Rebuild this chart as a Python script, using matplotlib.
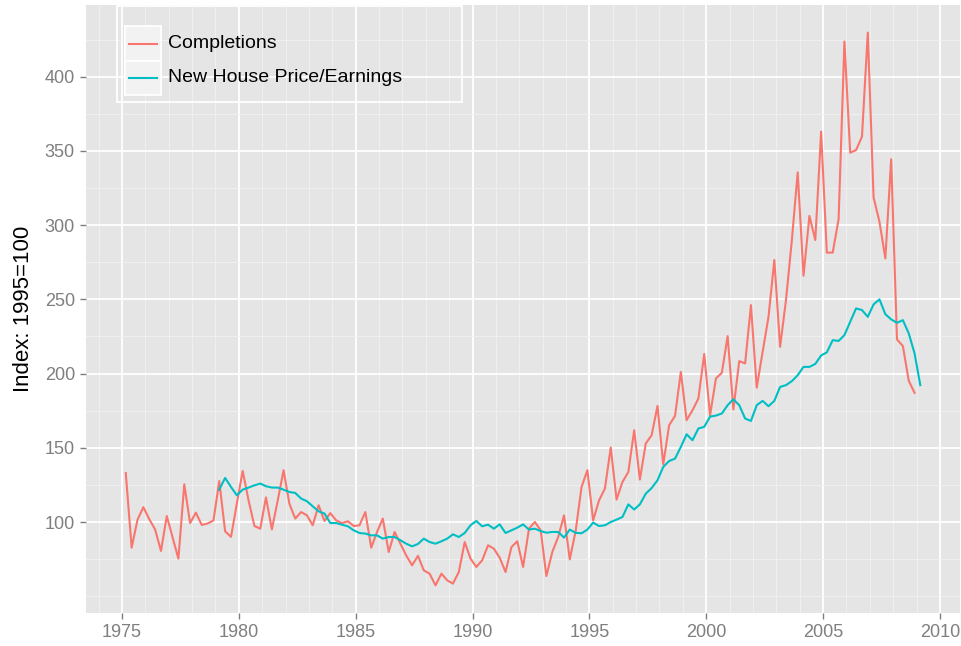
import numpy as np
import pandas as pd
import matplotlib
matplotlib.use("Agg")
import matplotlib.pyplot as plt
from matplotlib.patches import Rectangle
from matplotlib.lines import Line2D

plt.rcParams["font.family"] = ["Liberation Sans", "DejaVu Sans"]

# quarterly index values, 1995 = 100
completions = [
    133, 82.7, 101.6, 110, 102, 95, 80.5, 104, 90, 75.3,
    125.4, 99.3, 106.3, 98, 99, 101, 127.6, 93.7, 90, 112.4,
    134.4, 114.6, 97.3, 95.5, 116.6, 95, 114.6, 134.9, 112.4, 102.3,
    106.7, 104.5, 97.8, 111.3, 100.7, 106, 101.1, 99.3, 100.5, 97.3,
    97.8, 106.7, 82.7, 93.3, 102.3, 79.8, 93.3, 85.4, 77.5, 70.8,
    77.2, 67.4, 65.2, 57.3, 65.2, 60.7, 58.5, 66.3, 86.5, 75.3,
    69.7, 74.2, 84.3, 82, 76, 66.3, 83.1, 87, 69.7, 95.5,
    100, 94.4, 63.6, 79.8, 89.9, 104.5, 74.8, 94, 123.6, 134.9,
    101.1, 114.6, 122.5, 150.2, 115.1, 127, 133.7, 161.8, 128.6, 152.9,
    158.5, 178.2, 138.9, 165.2, 171.5, 201.1, 168.6, 175.3, 183.2, 213.2,
    171.9, 196.7, 200.5, 225.2, 175.8, 208.4, 206.8, 246.1, 190.5, 214.6,
    238.2, 276.5, 218, 249.5, 290, 335.5, 265.9, 306.2, 290, 363,
    281.5, 281.5, 304, 423.7, 348.8, 350.6, 359.6, 429.7, 318.7, 302.3,
    277.6, 344.4, 223, 218.5, 195.1, 187,
]

price_earnings = [
    121.8, 129.7, 123.6, 118, 121.8, 123.2, 124.7, 125.9, 124.1, 123.2,
    123.2, 121.8, 120.2, 119.6, 115.8, 114, 110.6, 107.2, 105.7, 99.3,
    99.3, 98.2, 97.1, 94.4, 92.6, 92.2, 91, 91, 88.8, 89.9,
    89.9, 87.7, 85.4, 83.6, 85.2, 88.8, 86.5, 85.4, 87, 88.8,
    91.7, 89.9, 92.6, 97.8, 100.7, 97.1, 98.2, 95.5, 98.4, 92.6,
    94.4, 96.2, 98.4, 94.9, 95.5, 93.9, 92.8, 93.3, 93.3, 89.5,
    94.9, 92.7, 92.4, 94.9, 99.6, 97.3, 97.8, 100, 101.6, 103.4,
    111.9, 108.4, 111.9, 119.1, 122.9, 128.1, 137.1, 141.1, 142.7, 150.6,
    159.1, 155.1, 163, 164.1, 171, 171.7, 173.1, 178.7, 182.7, 178.7,
    169.7, 168.1, 178.7, 181.6, 178, 181.6, 191, 192.2, 194.9, 198.9,
    204.5, 204.5, 206.5, 212.2, 214.3, 222.5, 222, 225.9, 234.9, 243.9,
    242.8, 238.2, 246.6, 250, 240, 236.5, 234.2, 236, 227, 213.5,
    192.2,
]


def decimal_year(dates):
    return dates.year + (dates.dayofyear - 1) / 365.25


completions_dates = decimal_year(pd.date_range("1975-03-01", periods=len(completions), freq="3MS"))
pe_dates = decimal_year(pd.date_range("1979-03-01", periods=len(price_earnings), freq="3MS"))

red = "#F8766D"
teal = "#00BFC4"

fig = plt.figure(figsize=(9.62, 6.46), dpi=100)
ax = fig.add_axes([86 / 962, 1 - 613 / 646, 874 / 962, 608 / 646])
ax.set_facecolor("#E5E5E5")
for s in ax.spines.values():
    s.set_visible(False)

ax.plot(completions_dates, completions, color=red, lw=1.5, zorder=3)
ax.plot(pe_dates, price_earnings, color=teal, lw=1.5, zorder=3)

ax.set_xlim(1973.46, 2010.86)
ax.set_ylim(38.7, 448.3)
ax.set_xticks(range(1975, 2011, 5))
ax.set_xticks([y for y in range(1974, 2011) if y % 5 != 0], minor=True)
ax.set_yticks(range(100, 401, 50))
ax.set_yticks([50, 75] + list(range(125, 426, 50)), minor=True)

ax.grid(which="major", color="white", lw=1.3, zorder=0)
ax.grid(which="minor", color="#F2F2F2", lw=0.6, zorder=0)
ax.set_axisbelow(True)

ax.tick_params(which="major", length=4, width=1, color="#7F7F7F",
               labelcolor="#7F7F7F", labelsize=13, pad=4)
ax.tick_params(which="minor", length=0)

ax.set_ylabel("Index: 1995=100", fontsize=16, labelpad=8)

# legend drawn in figure pixels like the ggplot key
def fx(px):
    return px / 962


def fy(py):
    return 1 - py / 646


tf = fig.transFigure
fig.patches.append(Rectangle((fx(117), fy(102)), fx(345), 96 / 646, transform=tf,
                             facecolor="none", edgecolor="white", lw=1.3, zorder=5))
for row, (lab, col) in enumerate([("Completions", red), ("New House Price/Earnings", teal)]):
    top = 26 + row * 34.5
    fig.patches.append(Rectangle((fx(125), fy(top + 34.5)), fx(36), 34.5 / 646, transform=tf,
                                 facecolor="#F2F2F2", edgecolor="white", lw=1.3, zorder=5))
    yc = fy(top + 17.5)
    fig.lines.append(Line2D([fx(129), fx(157)], [yc, yc], transform=tf, color=col, lw=1.5, zorder=6))
    fig.text(fx(168), yc, lab, fontsize=14, va="center", ha="left", color="black")

fig.savefig("out.png", dpi=100, facecolor="white")
